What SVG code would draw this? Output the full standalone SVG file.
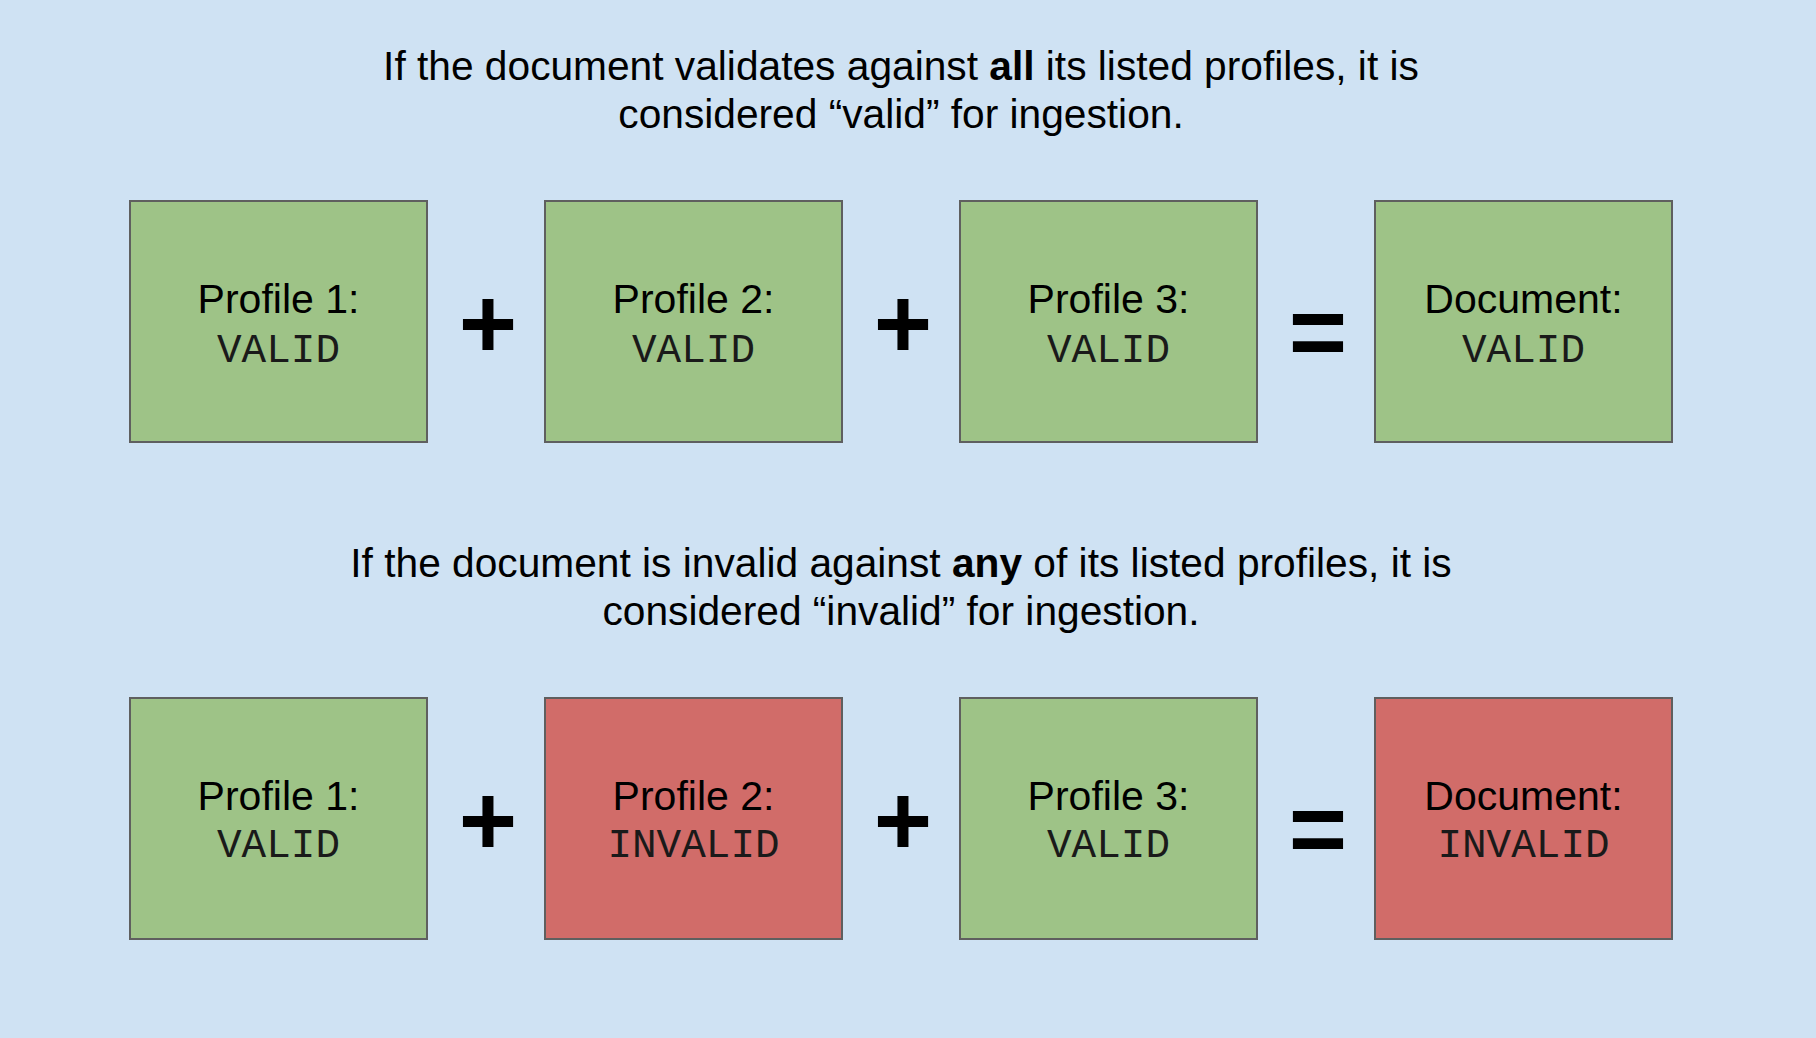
<svg xmlns="http://www.w3.org/2000/svg" width="1816" height="1038" viewBox="0 0 1816 1038">
<style>
.bg{fill:#cfe2f3}
.box{stroke:#5f5f5f;stroke-width:2}
.ok{fill:#9ec387}
.bad{fill:#d16c69}
.hd{font-family:"Liberation Sans",Arial,sans-serif;font-size:40.7px;fill:#000;text-anchor:middle}
.t{font-family:"Liberation Sans",Arial,sans-serif;font-size:41px;fill:#000;text-anchor:middle}
.m{font-family:"Liberation Mono","Courier New",monospace;font-size:41px;fill:#1a1a1a;text-anchor:middle}
.op{font-family:"Liberation Sans",Arial,sans-serif;font-size:100px;font-weight:bold;fill:#000;text-anchor:middle}
</style>
<rect class="bg" x="0" y="0" width="1816" height="1038"/>
<g id="header-top">
<text class="hd" x="901" y="80">If the document validates against <tspan font-weight="bold">all</tspan> its listed profiles, it is</text>
<text class="hd" x="901" y="128">considered “valid” for ingestion.</text>
</g>
<g id="header-bottom">
<text class="hd" x="901" y="577">If the document is invalid against <tspan font-weight="bold">any</tspan> of its listed profiles, it is</text>
<text class="hd" x="901" y="625">considered “invalid” for ingestion.</text>
</g>
<g id="top-p1"><rect class="box ok" x="130" y="201" width="297" height="241"/><text class="t" x="278.5" y="313">Profile 1:</text><text class="m" x="278.5" y="362">VALID</text></g>
<g id="top-p2"><rect class="box ok" x="545" y="201" width="297" height="241"/><text class="t" x="693.5" y="313">Profile 2:</text><text class="m" x="693.5" y="362">VALID</text></g>
<g id="top-p3"><rect class="box ok" x="960" y="201" width="297" height="241"/><text class="t" x="1108.5" y="313">Profile 3:</text><text class="m" x="1108.5" y="362">VALID</text></g>
<g id="top-doc"><rect class="box ok" x="1375" y="201" width="297" height="241"/><text class="t" x="1523.5" y="313">Document:</text><text class="m" x="1523.5" y="362">VALID</text></g>
<g id="bot-p1"><rect class="box ok" x="130" y="698" width="297" height="241"/><text class="t" x="278.5" y="810">Profile 1:</text><text class="m" x="278.5" y="857">VALID</text></g>
<g id="bot-p2"><rect class="box bad" x="545" y="698" width="297" height="241"/><text class="t" x="693.5" y="810">Profile 2:</text><text class="m" x="693.5" y="857">INVALID</text></g>
<g id="bot-p3"><rect class="box ok" x="960" y="698" width="297" height="241"/><text class="t" x="1108.5" y="810">Profile 3:</text><text class="m" x="1108.5" y="857">VALID</text></g>
<g id="bot-doc"><rect class="box bad" x="1375" y="698" width="297" height="241"/><text class="t" x="1523.5" y="810">Document:</text><text class="m" x="1523.5" y="857">INVALID</text></g>
<g id="operators">
<text class="op" x="488" y="358">+</text>
<text class="op" x="903" y="358">+</text>
<text class="op" x="1318" y="366">=</text>
<text class="op" x="488" y="855">+</text>
<text class="op" x="903" y="855">+</text>
<text class="op" x="1318" y="863">=</text>
</g>
</svg>
